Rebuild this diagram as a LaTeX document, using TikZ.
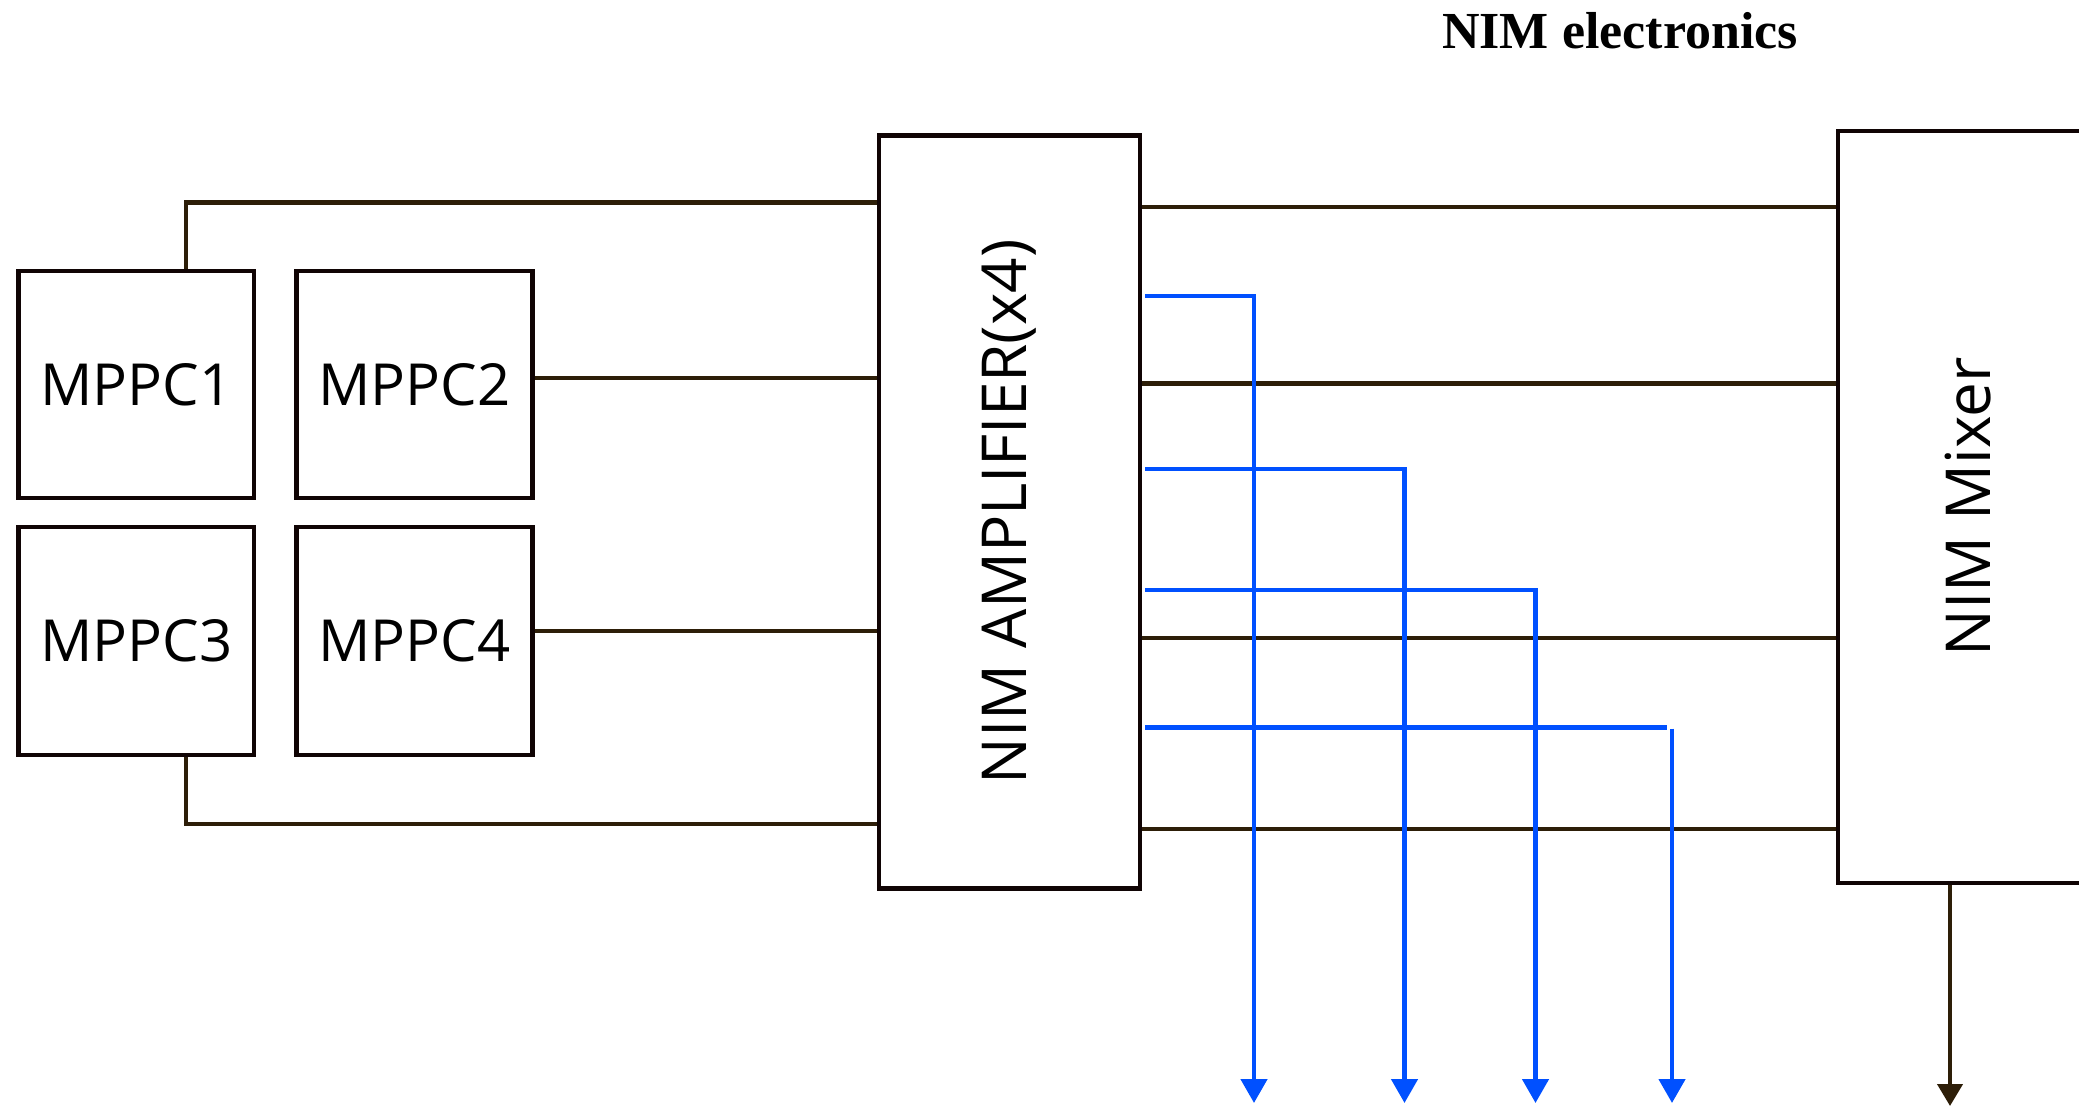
\documentclass[tikz,border=0pt]{standalone}
\usepackage{fontspec}
\usetikzlibrary{arrows.meta,calc}
\newfontfamily\lblfont{Open Sans}
\newfontfamily\ttlfont{Liberation Serif}
\definecolor{conncol}{RGB}{45,30,8}
\definecolor{boxcol}{RGB}{16,4,4}
\definecolor{sigcol}{RGB}{0,80,255}
\tikzset{
  blk/.style={draw=boxcol,line width=4.7pt,rectangle,inner sep=0pt,fill=white,
    font=\lblfont\fontsize{58}{70}\selectfont},
  bigtext/.style={font=\lblfont\fontsize{62}{74}\selectfont},
  conn/.style={draw=conncol,line width=4.3pt},
  sig/.style={draw=sigcol,line width=4.6pt},
  sigarrow/.style={sig,-{Triangle[width=26pt,length=24pt]}},
  connarrow/.style={conn,-{Triangle[width=25pt,length=22pt]}}
}
\begin{document}
\begin{tikzpicture}[x=1pt,y=-1pt]
\clip (0,0) rectangle (2079,1106);
\fill[white] (0,0) rectangle (2079,1106);
% title
\node[anchor=base,font=\ttlfont\bfseries\fontsize{52}{60}\selectfont,inner sep=0pt] (title) at (1620,48) {NIM electronics};
% boxes
\node[blk,minimum width=235.5pt,minimum height=227pt] (m1) at (136.25,384.5) {MPPC1};
\node[blk,minimum width=235.5pt,minimum height=227pt] (m2) at (414.5,384.5) {MPPC2};
\node[blk,minimum width=235.5pt,minimum height=228pt] (m3) at (136.25,641) {MPPC3};
\node[blk,minimum width=235.5pt,minimum height=228pt] (m4) at (414.5,641) {MPPC4};
\node[blk,bigtext,minimum width=261pt,minimum height=753pt] (amp) at (1009.5,511.8) {\rotatebox{90}{NIM AMPLIFIER(x4)}};
\node[blk,bigtext,minimum width=261pt,minimum height=752pt] (mix) at (1968.5,507) {\rotatebox{90}{NIM Mixer}};
% coordinates
\coordinate (c1) at (186,202.5);
\coordinate (c2) at (0,378);
\coordinate (c4) at (0,631);
\coordinate (c3) at (186,824);
\coordinate (r1) at (0,207);
\coordinate (r2) at (0,383.5);
\coordinate (r3) at (0,638);
\coordinate (r4) at (0,829);
\coordinate (h1) at (1254,296);
\coordinate (h2) at (1404.5,469);
\coordinate (h3) at (1535.5,590);
\coordinate (h4) at (1667,727.3);
\coordinate (v4) at (1672,728.5);
\coordinate (o1) at (1254,1103);
\coordinate (o2) at (1404.5,1103);
\coordinate (o3) at (1535.5,1103);
\coordinate (o4) at (1672,1103);
\coordinate (mo) at (1950,1106);
% MPPC -> amplifier
\draw[conn] (c1 |- m1.north) -- (c1) -- (c1 -| amp.west);
\draw[conn] (c2 -| m2.east) -- (c2 -| amp.west);
\draw[conn] (c4 -| m4.east) -- (c4 -| amp.west);
\draw[conn] (c3 |- m3.south) -- (c3) -- (c3 -| amp.west);
% amplifier -> mixer
\foreach \r in {r1,r2,r3,r4}{
  \draw[conn] (\r -| amp.east) -- (\r -| mix.west);
}
% blue outputs
\draw[sigarrow] ($(amp.east |- h1)+(3,0)$) -- (h1) -- (o1);
\draw[sigarrow] ($(amp.east |- h2)+(3,0)$) -- (h2) -- (o2);
\draw[sigarrow] ($(amp.east |- h3)+(3,0)$) -- (h3) -- (o3);
\draw[sig] ($(amp.east |- h4)+(3,0)$) -- (h4);
\draw[sigarrow] (v4) -- (o4);
% mixer output
\draw[connarrow] (mix.south -| mo) -- (mo);
\end{tikzpicture}
\end{document}
